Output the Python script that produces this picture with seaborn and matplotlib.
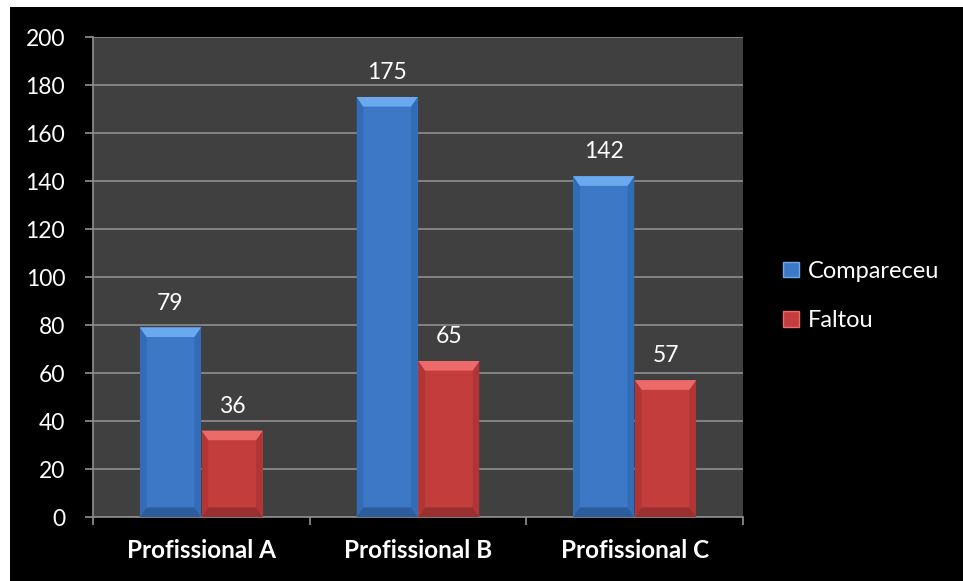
import matplotlib
matplotlib.use("Agg")
import matplotlib.pyplot as plt
from matplotlib.patches import Rectangle, Polygon, Patch
import seaborn as sns
import pandas as pd

categories = ["Profissional A", "Profissional B", "Profissional C"]
series_names = ["Compareceu", "Faltou"]
compareceu = [79, 175, 142]
faltou = [36, 65, 57]
y_ticks = [0, 20, 40, 60, 80, 100, 120, 140, 160, 180, 200]

df = pd.DataFrame({
    "cat": categories * 2,
    "serie": [series_names[0]] * 3 + [series_names[1]] * 3,
    "val": compareceu + faltou,
})

sns.set_theme(style="white")
plt.rcParams["font.family"] = ["Lato", "DejaVu Sans"]

W, H = 963, 581
fig = plt.figure(figsize=(W / 100, H / 100), dpi=100, facecolor="white")
fig.patches.append(Rectangle((10 / W, 0), 1, 1 - 7 / H, transform=fig.transFigure,
                             facecolor="black", edgecolor="none", zorder=-10))

ax = fig.add_axes([93 / W, 1 - 517 / H, (743 - 93) / W, (517 - 37) / H])
ax.set_facecolor("#404040")

main_cols = {"Compareceu": "#3c78c6", "Faltou": "#c43d3d"}
light_cols = {"Compareceu": "#6ba9ee", "Faltou": "#ec6a6a"}
side_cols = {"Compareceu": "#3067b0", "Faltou": "#a93333"}
bot_cols = {"Compareceu": "#2c5c9c", "Faltou": "#9a2f2f"}

sns.barplot(data=df, x="cat", y="val", hue="serie", hue_order=series_names,
            order=categories, palette=main_cols, width=0.57, gap=0.01,
            ax=ax, legend=False, zorder=3, linewidth=0, saturation=1)

ax.set_ylim(0, 200)
ax.set_xlim(-0.5, 2.5)
ax.set_yticks(y_ticks)
ax.set_yticklabels([str(t) for t in y_ticks])
ax.yaxis.grid(True, color="#888888", linewidth=1.3, zorder=0)
ax.set_axisbelow(True)
ax.set_xlabel("")
ax.set_ylabel("")

for s in ["top", "right"]:
    ax.spines[s].set_visible(False)
for s in ["left", "bottom"]:
    ax.spines[s].set_color("#888888")
    ax.spines[s].set_linewidth(1.3)

ax.tick_params(axis="y", colors="white", labelsize=16.5, length=6, width=1.3,
               color="#888888", direction="out", left=True, pad=14)
ax.set_xticks([0, 1, 2])
ax.set_xticklabels(categories, fontweight="bold", fontsize=17.5, color="white")
ax.tick_params(axis="x", length=0, pad=16)
ax.set_xticks([-0.5, 0.5, 1.5, 2.5], minor=True)
ax.tick_params(axis="x", which="minor", length=6, width=1.3, color="#888888",
               direction="out", bottom=True)

# bevel effect and labels
blue_ref = matplotlib.colors.to_rgba(main_cols["Compareceu"])
bars = [p for p in ax.patches if isinstance(p, Rectangle) and p.get_height() > 0]
for p in sorted(bars, key=lambda p: p.get_x()):
    x0, w, h = p.get_x(), p.get_width(), p.get_height()
    name = series_names[0] if abs(p.get_facecolor()[2] - blue_ref[2]) < 0.05 else series_names[1]
    bx = w * 0.11
    by = 200 * 0.02
    x1 = x0 + w
    poly_top = Polygon([(x0, h), (x1, h), (x1 - bx, h - by), (x0 + bx, h - by)],
                       closed=True, facecolor=light_cols[name], edgecolor="none", zorder=4)
    poly_bot = Polygon([(x0, 0), (x1, 0), (x1 - bx, by), (x0 + bx, by)],
                       closed=True, facecolor=bot_cols[name], edgecolor="none", zorder=4)
    poly_l = Polygon([(x0, 0), (x0 + bx, by), (x0 + bx, h - by), (x0, h)],
                     closed=True, facecolor=side_cols[name], edgecolor="none", zorder=4, alpha=0.7)
    poly_r = Polygon([(x1, 0), (x1 - bx, by), (x1 - bx, h - by), (x1, h)],
                     closed=True, facecolor=side_cols[name], edgecolor="none", zorder=4, alpha=0.7)
    for pp in (poly_l, poly_r, poly_top, poly_bot):
        ax.add_patch(pp)
    ax.annotate(f"{h:.0f}", (x0 + w / 2, h), xytext=(0, 10), textcoords="offset points",
                ha="center", va="bottom", color="white", fontsize=16.5, zorder=5)

# legend
handles = [Patch(facecolor=main_cols[n], edgecolor=light_cols[n], linewidth=1) for n in series_names]
leg = fig.legend(handles, series_names, loc="center left", bbox_to_anchor=(762 / W, 1 - 296 / H),
                 frameon=False, fontsize=17, labelcolor="white", handlelength=0.65,
                 handleheight=0.65, handletextpad=0.4, labelspacing=1.2)

fig.savefig("out.png", dpi=100, facecolor=fig.get_facecolor())
